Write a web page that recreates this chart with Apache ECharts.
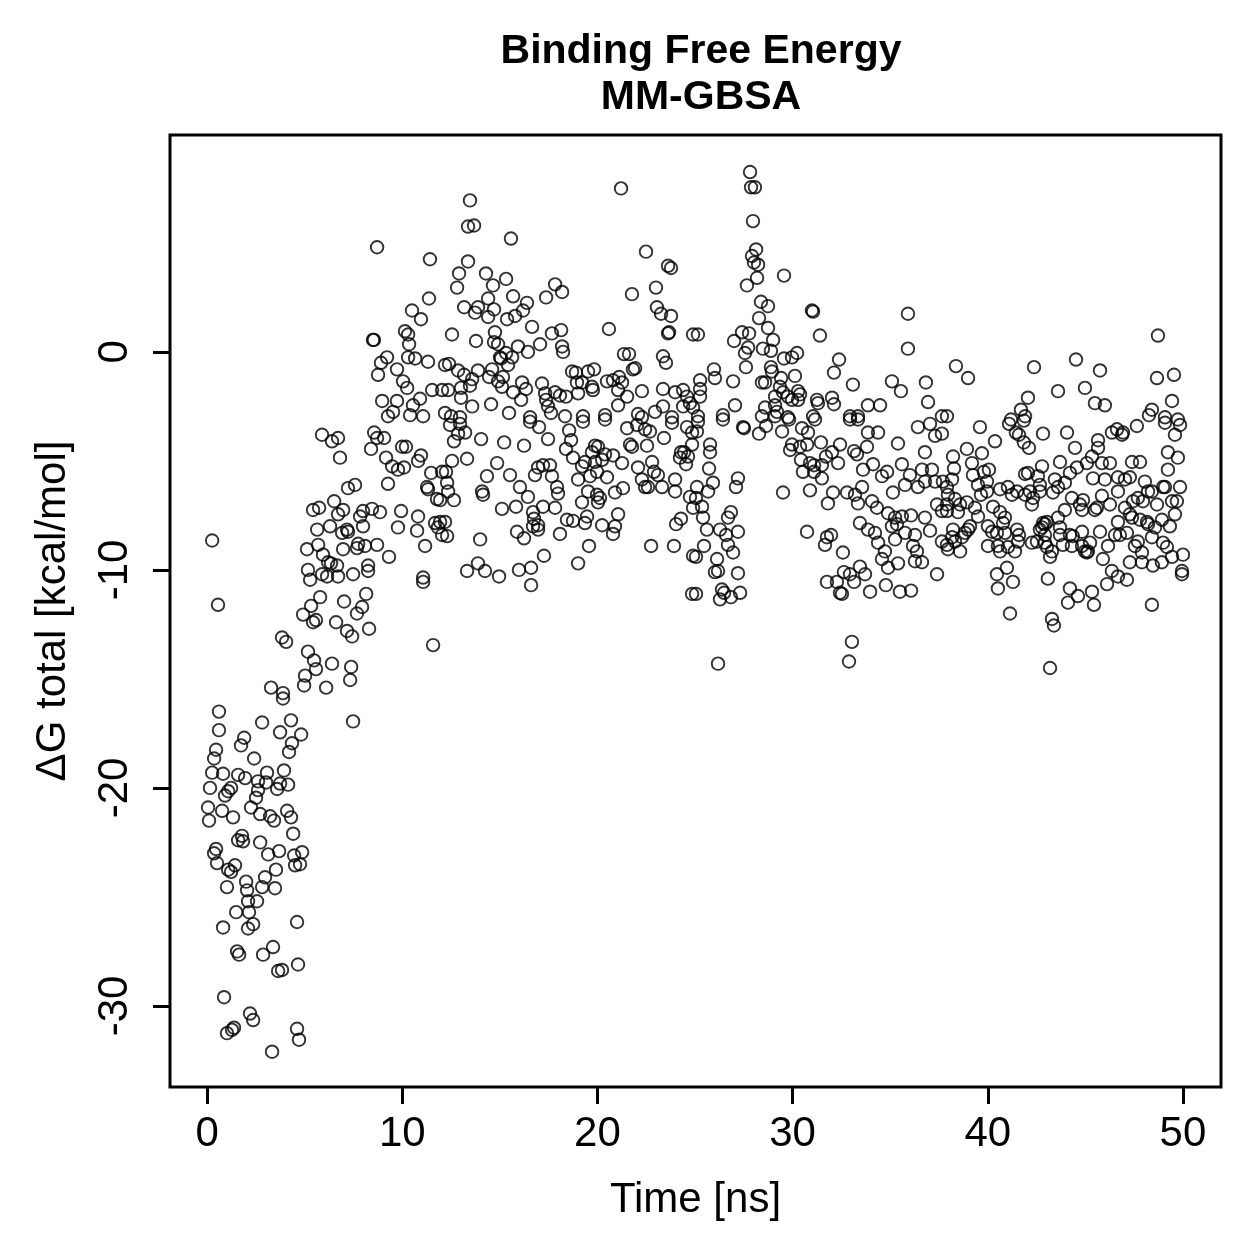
<!DOCTYPE html>
<html>
<head>
<meta charset="utf-8">
<script src="https://cdn.jsdelivr.net/npm/echarts@6/dist/echarts.min.js"></script>
<style>
  html, body { margin: 0; padding: 0; background: #fff; }
  #chart { width: 1259px; height: 1259px; }
</style>
</head>
<body>
<div id="chart"></div>
<script>
  // ΔG total vs time, [time ns, kcal/mol]
  var warmup = [[0.26,-8.65],[0.56,-11.6],
    [0.61,-16.5],[0.61,-17.35],[2.82,-17.0],[4.3,-16.9],[3.74,-17.45],[4.82,-17.55],[1.9,-17.7],[1.74,-18.05],[4.35,-17.95],[0.46,-18.25],[0.36,-18.65],[2.41,-18.65],[4.2,-18.35],[3.94,-19.2],[0.26,-19.3],[0.82,-19.35],[1.59,-19.4],[1.95,-19.55],[3.07,-19.3],[2.61,-19.7],[3.02,-19.75],[3.74,-19.8],[4.15,-19.85],[0.15,-20.0],[1.23,-20.0],[1.08,-20.15],[2.61,-20.1],[3.59,-20.05],[0.92,-20.35],[2.51,-20.45],[0.05,-20.9],[0.77,-21.05],[2.25,-20.9],[2.72,-21.2],[3.23,-21.3],[3.43,-21.5],[4.1,-21.05],[4.3,-21.35],[0.1,-21.5],[1.33,-21.35],[4.41,-22.1],[1.79,-22.2],[1.59,-22.4],[1.84,-22.45],[2.72,-22.5],[3.13,-23.05],[3.69,-22.9],[0.46,-22.8],[0.36,-23.0],[0.51,-23.45],[4.87,-22.95],[4.46,-23.1],[4.51,-23.55],[4.76,-23.5],[1.43,-23.55],[1.08,-23.75],[1.23,-23.85],[3.53,-23.75],[2.97,-24.1],[2.0,-24.3],[2.82,-24.55],[3.48,-24.6],[1.02,-24.55],[2.05,-24.7],[2.1,-25.2],[2.56,-25.2],[1.49,-25.7],[2.15,-25.7],[0.82,-26.4],[2.1,-26.45],[2.36,-26.25],[4.61,-26.15],[1.54,-27.5],[1.64,-27.65],[2.87,-27.65],[3.38,-27.3],[4.66,-28.1],[3.64,-28.4],[3.84,-28.35],[0.87,-29.6],[2.2,-30.35],[2.36,-30.65],[1.02,-31.25],[1.28,-31.1],[1.38,-31.0],[4.61,-31.05],[4.71,-31.55],[3.33,-32.1],[3.89,-15.9]];

  var rampLow = [[5.89,-3.8],[6.4,-4.1],[6.71,-3.95],[6.81,-4.85],[8.56,-3.7],[8.71,-3.95],[9.07,-3.95],[8.4,-4.45],[9.17,-4.85],[9.48,-5.25],[9.78,-5.4],[10.09,-5.3],[9.99,-4.35],[10.19,-4.35],[10.81,-5.0],[10.96,-4.75],[11.48,-5.55],[12.04,-5.5],[11.32,-6.3],[11.27,-6.2],[11.78,-6.75],[11.94,-6.8],[9.27,-6.05],[7.22,-6.25],[7.58,-6.1],[6.51,-6.85],[5.43,-7.25],[5.74,-7.15],[6.71,-7.45],[6.97,-7.25],[7.99,-7.3],[8.45,-7.2],[8.86,-7.35],[7.84,-7.55],[9.94,-7.3],[10.81,-7.55],[11.68,-7.85],[11.94,-7.8],[11.83,-8.05],[12.04,-8.4],[5.64,-8.15],[6.3,-8.0],[6.92,-8.3],[7.17,-8.15],[7.22,-8.25],[7.99,-8.0],[9.78,-8.05],[10.76,-8.2],[5.12,-9.05],[5.69,-8.85],[5.94,-9.3],[6.97,-9.05],[7.74,-8.8],[7.68,-9.0],[8.09,-8.9],[8.71,-8.85],[9.32,-9.4],[11.17,-8.9],[6.2,-9.65],[6.35,-9.7],[6.66,-9.8],[5.17,-10.0],[5.28,-10.45],[5.89,-10.2],[6.15,-10.3],[6.71,-10.3],[7.48,-10.2],[8.25,-9.8],[8.25,-10.05],[11.07,-10.35],[11.07,-10.55],[5.79,-11.25],[5.33,-11.65],[4.92,-12.05],[5.43,-12.4],[5.58,-12.3],[7.02,-11.45],[8.15,-11.1],[7.94,-11.7],[7.68,-12.0],[6.61,-12.4],[7.17,-12.8],[7.43,-13.05],[8.3,-12.7],[11.58,-13.45],[3.84,-13.1],[4.05,-13.3],[5.17,-13.75],[5.48,-14.15],[6.4,-14.3],[5.58,-14.55],[7.38,-14.45],[5.02,-14.85],[4.97,-15.3],[7.33,-15.05],[6.1,-15.4],[3.28,-15.4],[3.89,-15.65],[7.48,-16.95]];

  var rampHigh = [[8.71,4.8],[11.42,4.25],[11.37,2.45],[10.5,1.9],[10.96,1.5],[8.5,0.55],[8.55,0.55],[10.14,0.95],[10.3,0.8],[10.35,0.35],[9.22,-0.25],[8.91,-0.5],[10.3,-0.25],[10.66,-0.3],[11.32,-0.45],[9.73,-0.8],[8.76,-1.05],[10.04,-1.35],[10.25,-1.65],[11.53,-1.75],[12.04,-1.75],[12.19,-0.6],[8.97,-2.25],[9.73,-2.25],[10.91,-2.15],[10.55,-2.45],[9.53,-2.75],[9.27,-2.95],[11.07,-2.95],[12.19,-2.8],[10.4,-2.9]];

  var plateauUpper = [[13.47,6.95],[13.37,5.75],[13.68,5.8],[15.57,5.2],[21.21,7.5],[22.49,4.6],[23.62,3.95],[23.77,3.85],[13.37,4.15],[12.91,3.6],[12.81,2.95],[14.29,3.6],[14.65,3.05],[15.32,3.35],[14.4,2.45],[15.68,2.55],[17.83,3.1],[18.19,2.75],[17.37,2.5],[16.39,2.25],[16.19,1.9],[15.78,1.65],[15.37,1.5],[21.77,2.65],[23.0,2.95],[23.05,2.05],[23.26,1.75],[23.77,1.65],[13.17,2.05],[13.73,1.8],[13.88,2.05],[14.4,1.6],[14.7,1.95],[12.55,0.8],[13.78,0.5],[14.75,0.9],[14.7,0.45],[14.91,0.35],[16.65,1.15],[17.67,0.85],[18.14,1.0],[17.06,0.35],[18.19,0.25],[18.24,0.0],[20.59,1.05],[23.62,0.85],[23.67,0.9],[24.9,0.8],[15.93,0.25],[16.44,0.0],[15.01,-0.25],[15.32,-0.05],[15.63,-0.25],[15.42,-0.6],[15.06,-0.3],[21.36,-0.1],[21.62,-0.1],[23.36,-0.2],[23.51,-0.5],[21.82,-0.8],[21.93,-0.75],[12.4,-0.55],[12.86,-0.85],[13.17,-1.05],[13.88,-0.85],[14.6,-0.8],[14.45,-1.15],[15.16,-1.15],[14.91,-1.35],[15.11,-1.6],[13.58,-1.25],[13.47,-1.55],[13.01,-1.65],[16.14,-1.4],[16.34,-1.7],[15.68,-1.85],[16.09,-2.2],[17.16,-1.45],[17.32,-1.9],[17.83,-1.85],[18.08,-2.0],[18.39,-2.05],[17.37,-2.2],[18.7,-0.9],[18.9,-0.95],[19.52,-0.9],[19.83,-0.8],[18.95,-1.4],[19.21,-1.4],[19.72,-1.6],[19.77,-1.75],[19.01,-1.9],[20.49,-1.35],[20.8,-1.3],[21.11,-1.15],[21.26,-1.4],[21.06,-1.75],[21.52,-2.05],[22.28,-1.8],[23.36,-1.7],[23.98,-1.85],[24.39,-1.75],[24.59,-2.05],[24.74,-2.35],[24.39,-2.5],[12.35,-1.75],[13.01,-2.1],[13.58,-2.5],[14.55,-2.4],[15.47,-2.8],[16.55,-3.0],[17.47,-2.5],[17.62,-2.8],[20.39,-2.9],[21.06,-2.45],[22.08,-2.85],[22.95,-2.75],[23.36,-2.5],[12.5,-2.95],[12.96,-3.0],[18.34,-2.95],[19.26,-2.95],[22.28,-3.0],[23.82,-3.0],[24.9,-2.55]];

  var plateauLower = [[12.45,-3.35],[12.96,-3.3],[13.22,-3.7],[12.86,-3.75],[12.65,-4.1],[14.04,-4.0],[15.22,-4.15],[16.24,-4.3],[16.55,-3.2],[17.01,-3.45],[17.47,-4.0],[18.55,-3.6],[18.65,-4.05],[18.39,-4.45],[18.75,-4.85],[19.26,-3.2],[20.39,-3.1],[21.52,-3.5],[22.03,-3.35],[22.44,-3.55],[22.69,-3.65],[23.41,-3.95],[23.82,-3.25],[24.59,-3.45],[24.85,-3.7],[22.54,-4.3],[21.77,-4.35],[21.67,-4.25],[19.88,-4.3],[20.03,-4.35],[19.72,-4.6],[20.39,-4.7],[20.8,-4.75],[21.26,-5.1],[24.28,-4.6],[24.44,-4.6],[24.23,-4.85],[24.64,-4.8],[24.54,-5.15],[24.85,-4.25],[12.55,-5.0],[13.32,-4.9],[14.86,-5.1],[12.24,-5.5],[12.3,-6.0],[12.35,-6.4],[12.65,-6.8],[14.34,-5.7],[15.52,-5.65],[16.03,-6.2],[16.44,-6.65],[14.09,-6.4],[14.14,-6.55],[16.96,-5.3],[17.21,-5.2],[17.57,-5.2],[16.8,-5.65],[17.67,-5.7],[17.93,-6.2],[17.98,-6.5],[19.01,-5.85],[19.21,-5.25],[19.36,-5.05],[19.88,-5.05],[20.24,-4.95],[19.98,-5.5],[20.49,-5.75],[19.62,-5.7],[19.52,-6.4],[19.98,-6.55],[20.13,-6.7],[20.03,-6.9],[19.21,-6.9],[20.9,-6.45],[21.31,-6.25],[22.08,-5.3],[22.28,-5.85],[22.8,-5.05],[22.9,-5.5],[23.1,-5.65],[22.44,-6.2],[22.59,-6.2],[23.31,-6.2],[23.98,-5.85],[23.98,-6.4],[24.74,-6.65],[24.9,-7.15],[15.11,-7.2],[15.83,-7.1],[16.7,-7.35],[17.21,-7.1],[17.83,-7.15],[16.75,-7.65],[16.96,-7.95],[16.96,-8.15],[16.7,-8.0],[15.88,-8.25],[16.24,-8.55],[18.08,-8.35],[18.44,-7.7],[18.75,-7.75],[19.47,-7.55],[19.36,-7.85],[20.24,-7.95],[21.06,-7.45],[20.9,-8.0],[20.8,-8.35],[24.03,-7.9],[24.28,-7.65],[12.19,-7.8],[12.3,-8.45],[13.99,-8.6],[17.26,-9.35],[19.01,-9.7],[19.57,-8.9],[22.75,-8.9],[23.92,-8.9],[24.9,-9.35],[13.88,-9.7],[13.32,-10.05],[14.24,-10.05],[14.96,-10.3],[15.98,-10.0],[16.6,-9.9],[16.6,-10.7],[24.85,-11.1]];

  var peakUpper = [[27.82,8.25],[27.87,7.55],[28.07,7.55],[27.97,6.0],[28.13,4.7],[27.92,4.4],[28.02,4.1],[28.23,4.0],[28.18,3.4],[27.66,3.05],[29.56,3.5],[28.38,2.3],[28.74,2.1],[30.99,1.9],[31.05,1.85],[28.28,1.55],[35.91,1.75],[28.74,1.1],[31.4,0.75],[27.41,0.9],[27.77,0.85],[27.0,0.5],[25.15,0.8],[29.0,0.55],[27.72,0.2],[27.56,-0.05],[28.48,0.15],[28.89,0.05],[29.56,-0.3],[29.97,-0.25],[30.23,-0.05],[32.38,-0.35],[35.91,0.15],[27.61,-0.7],[28.89,-0.7],[28.94,-0.9],[29.41,-1.2],[30.12,-1.1],[32.12,-0.95],[25.97,-0.8],[26.02,-1.2],[26.95,-1.35],[28.43,-1.4],[28.59,-1.4],[29.35,-1.6],[25.26,-1.3],[25.26,-1.7],[25.26,-2.05],[35.09,-1.35],[35.55,-1.8],[36.83,-1.4],[33.09,-1.5],[30.28,-1.8],[30.38,-1.95],[29.1,-2.05],[29.51,-1.85],[29.76,-2.05],[31.25,-2.2],[31.3,-2.35],[32.02,-2.1],[32.12,-2.4],[29.97,-2.2],[30.28,-2.2],[27.05,-2.45],[28.59,-2.55],[29.1,-2.45],[29.2,-2.75],[33.86,-2.45],[34.48,-2.45],[36.94,-2.3],[26.43,-2.9],[28.43,-2.95],[29.1,-2.95],[29.76,-3.0],[31.05,-2.95],[32.94,-2.95],[33.35,-2.95],[37.65,-2.95],[25.15,-2.95]];

  var peakLower = [[25.1,-3.65],[25.15,-3.2],[26.43,-3.1],[27.46,-3.45],[27.51,-3.5],[28.28,-3.75],[28.64,-3.4],[29.46,-3.65],[29.82,-3.1],[30.48,-3.5],[30.79,-3.7],[31.15,-3.1],[29.97,-4.25],[29.87,-4.5],[30.38,-4.35],[30.74,-4.25],[31.45,-4.15],[32.43,-4.25],[30.43,-4.95],[30.89,-5.1],[30.53,-5.5],[31.1,-5.2],[31.5,-5.2],[31.71,-4.8],[32.02,-4.6],[32.33,-5.1],[31.5,-5.8],[31.1,-5.5],[33.15,-4.55],[33.3,-4.7],[33.81,-4.35],[33.86,-3.7],[34.38,-3.7],[33.35,-3.1],[32.94,-3.1],[35.4,-4.2],[36.42,-3.45],[37.04,-3.3],[37.3,-3.85],[37.65,-3.75],[36.78,-4.6],[33.61,-5.4],[34.12,-5.15],[34.58,-5.7],[34.84,-5.5],[35.6,-5.15],[36.01,-5.65],[35.76,-6.1],[36.63,-5.4],[37.14,-5.4],[36.42,-6.2],[36.78,-5.95],[37.3,-5.95],[37.7,-5.95],[35.14,-6.45],[33.56,-6.2],[33.2,-6.55],[33.35,-6.95],[32.79,-6.45],[32.07,-6.45],[31.81,-6.95],[29.51,-6.45],[30.89,-6.35],[34.07,-6.85],[34.32,-7.15],[34.89,-7.4],[35.25,-7.6],[35.6,-7.55],[36.07,-7.5],[36.78,-7.6],[37.4,-7.0],[37.65,-7.3],[33.45,-7.85],[33.86,-8.15],[34.22,-8.3],[34.38,-8.75],[35.09,-8.0],[35.35,-7.9],[35.76,-8.3],[36.27,-8.4],[36.17,-8.9],[36.37,-9.15],[35.25,-8.6],[34.73,-9.15],[34.58,-9.5],[34.89,-9.9],[35.4,-9.7],[36.27,-9.6],[36.63,-9.65],[37.4,-10.2],[37.65,-8.7],[37.04,-8.2],[30.74,-8.25],[31.66,-8.85],[31.76,-8.5],[31.97,-8.4],[32.58,-9.2],[32.63,-10.1],[32.94,-10.2],[33.15,-10.55],[33.45,-9.85],[33.71,-10.2],[31.76,-10.55],[32.27,-10.55],[32.53,-11.1],[32.43,-11.05],[33.97,-11.0],[34.78,-10.7],[35.5,-11.0],[36.07,-10.95],[33.04,-13.3],[32.89,-14.2],[26.18,-14.3],[25.77,-4.25],[25.77,-4.6],[25.72,-5.35],[25.92,-6.0],[25.67,-6.4],[25.1,-6.2],[25.05,-6.7],[25.36,-7.1],[25.41,-7.6],[25.61,-8.15],[25.05,-9.4],[25.46,-8.9],[27.2,-5.8],[27.1,-6.2],[26.84,-7.35],[26.69,-7.6],[26.28,-8.15],[27.2,-8.25],[26.59,-8.4],[26.69,-8.85],[26.95,-9.2],[26.13,-9.5],[26.18,-10.05],[26.02,-10.1],[27.2,-10.15],[26.38,-10.9],[26.49,-11.05],[26.28,-11.35],[26.84,-11.25],[27.31,-11.05],[25.05,-11.1]];

  var lateUpper = [[48.72,0.75],[38.37,-0.65],[38.99,-1.2],[42.37,-0.7],[44.52,-0.35],[45.75,-0.85],[43.6,-1.8],[44.98,-1.65],[42.06,-2.1],[41.7,-2.65],[41.91,-2.95],[41.19,-3.1],[45.49,-2.35],[46.0,-2.45],[48.67,-1.2],[49.54,-1.05],[49.44,-2.25],[48.41,-2.65],[48.26,-2.9],[49.08,-3.0],[49.74,-3.1],[37.91,-2.95]];

  var lateLower = [[39.6,-3.45],[41.09,-3.3],[41.85,-3.15],[41.44,-3.7],[41.6,-3.8],[41.85,-4.15],[42.11,-4.4],[42.83,-3.75],[44.06,-3.7],[44.47,-4.4],[40.37,-4.1],[38.93,-4.45],[39.7,-4.65],[38.22,-4.8],[38.27,-5.35],[39.19,-5.1],[39.24,-5.65],[39.8,-5.5],[40.06,-5.4],[38.17,-5.85],[37.91,-6.2],[39.5,-6.1],[39.96,-5.95],[39.96,-6.4],[39.65,-6.55],[40.63,-6.3],[41.03,-6.2],[41.24,-6.55],[41.5,-6.4],[41.91,-6.55],[42.16,-6.4],[42.32,-6.7],[42.26,-7.0],[42.06,-5.55],[41.91,-5.6],[42.78,-5.25],[42.57,-5.7],[42.67,-6.1],[42.67,-6.4],[43.7,-5.05],[43.44,-5.85],[43.6,-6.2],[43.34,-6.45],[43.95,-6.0],[44.21,-5.55],[44.57,-5.3],[45.08,-5.1],[45.34,-4.8],[45.65,-4.4],[45.65,-4.05],[45.39,-5.8],[45.85,-5.1],[46.26,-5.1],[46.0,-5.85],[46.67,-5.75],[47.03,-5.85],[47.28,-5.75],[47.39,-5.05],[47.8,-5.05],[46.36,-3.7],[46.62,-3.55],[46.93,-3.7],[46.88,-3.8],[47.64,-3.4],[49.08,-3.25],[49.85,-3.35],[49.59,-3.8],[49.23,-4.6],[49.74,-4.85],[49.23,-5.4],[48.05,-5.95],[48.41,-6.4],[49.08,-6.2],[49.85,-6.2],[37.96,-6.55],[38.32,-6.75],[37.91,-7.0],[38.58,-7.0],[38.93,-6.9],[38.47,-7.35],[37.91,-7.3],[39.34,-7.15],[39.5,-7.55],[40.27,-7.1],[40.63,-7.35],[40.88,-7.6],[40.78,-7.85],[40.01,-8.0],[40.22,-8.25],[40.47,-8.3],[40.88,-8.3],[41.5,-8.15],[41.6,-8.4],[39.09,-8.0],[38.83,-8.3],[38.22,-8.15],[38.17,-8.5],[38.68,-8.5],[38.99,-8.15],[38.32,-8.7],[37.91,-8.85],[37.96,-9.05],[38.58,-9.15],[40.01,-8.9],[40.52,-8.9],[40.63,-9.15],[41.03,-8.95],[41.39,-9.15],[41.55,-8.7],[42.26,-8.75],[42.52,-8.7],[42.78,-8.05],[42.93,-7.9],[42.83,-7.85],[43.03,-7.8],[42.67,-8.15],[42.93,-8.4],[42.93,-8.75],[43.03,-8.95],[43.29,-9.15],[43.19,-9.4],[43.6,-7.6],[43.7,-8.05],[43.95,-7.25],[44.31,-6.7],[44.72,-7.0],[44.83,-7.25],[44.88,-6.8],[45.49,-7.25],[45.59,-7.15],[45.85,-6.6],[46.26,-7.0],[46.67,-6.4],[47.03,-7.15],[47.44,-6.85],[47.69,-6.7],[47.95,-6.85],[48.21,-6.4],[48.67,-7.0],[48.98,-6.2],[49.44,-6.85],[49.69,-6.85],[49.59,-7.45],[47.28,-7.45],[47.39,-7.6],[46.67,-7.8],[47.8,-7.7],[48.16,-7.8],[48.21,-7.9],[48.57,-8.05],[48.92,-7.7],[49.33,-8.0],[43.7,-8.4],[44.21,-8.4],[44.36,-8.45],[44.83,-8.25],[43.85,-8.85],[44.31,-8.9],[44.83,-8.9],[44.98,-9.15],[45.08,-9.2],[45.24,-8.75],[45.13,-9.15],[45.75,-8.25],[46.16,-8.9],[46.52,-8.4],[46.77,-8.4],[47.13,-8.3],[47.54,-8.9],[47.9,-9.2],[47.69,-8.7],[48.41,-8.5],[48.98,-8.75],[49.18,-8.95],[49.44,-9.4],[50.0,-9.3],[49.95,-10.05],[49.95,-10.2],[47.28,-9.65],[47.9,-9.65],[48.46,-9.8],[48.92,-9.65],[45.9,-9.5],[46.36,-10.05],[46.67,-10.3],[47.13,-10.45],[46.11,-10.65],[40.98,-9.9],[40.47,-10.2],[41.29,-10.55],[40.52,-10.85],[43.08,-10.4],[44.21,-10.85],[44.62,-11.2],[44.11,-11.5],[45.34,-11.0],[45.44,-11.6],[48.41,-11.6],[41.14,-12.0],[43.29,-12.25],[43.39,-12.55],[43.19,-14.5]];

  var xTicks = [0, 10, 20, 30, 40, 50];
  var yTicks = [-30, -20, -10, 0];

  var allPoints = [].concat(warmup, rampLow, rampHigh, plateauUpper, plateauLower,
    peakUpper, peakLower, lateUpper, lateLower);

  var font = '"Liberation Sans", Arial, Helvetica, sans-serif';
  var chart = echarts.init(document.getElementById('chart'), null, { renderer: 'canvas' });

  chart.setOption({
    animation: false,
    backgroundColor: '#fff',
    title: {
      text: 'Binding Free Energy\nMM-GBSA',
      left: 696,
      top: 24,
      textAlign: 'center',
      textStyle: {
        fontFamily: font,
        fontWeight: 'bold',
        fontSize: 41,
        lineHeight: 46,
        color: '#000'
      }
    },
    grid: {
      left: 170,
      top: 135,
      width: 1051,
      height: 952,
      show: true,
      borderColor: '#000',
      borderWidth: 3,
      backgroundColor: 'transparent'
    },
    xAxis: {
      type: 'value',
      min: -1.9,
      max: 51.95,
      name: 'Time [ns]',
      nameLocation: 'middle',
      nameGap: 92,
      nameTextStyle: { fontFamily: font, fontSize: 42, color: '#000' },
      axisLine: { show: false, onZero: false },
      splitLine: { show: false },
      axisTick: {
        show: true,
        inside: false,
        length: 17,
        customValues: xTicks,
        lineStyle: { color: '#000', width: 3 }
      },
      axisLabel: {
        customValues: xTicks,
        margin: 26,
        fontFamily: font,
        fontSize: 42,
        color: '#000'
      }
    },
    yAxis: {
      type: 'value',
      min: -33.72,
      max: 9.95,
      name: 'ΔG total [kcal/mol]',
      nameLocation: 'middle',
      nameGap: 96,
      nameRotate: 90,
      nameTextStyle: { fontFamily: font, fontSize: 42, color: '#000' },
      axisLine: { show: false, onZero: false },
      splitLine: { show: false },
      axisTick: {
        show: true,
        inside: false,
        length: 17,
        customValues: yTicks,
        lineStyle: { color: '#000', width: 3 }
      },
      axisLabel: {
        customValues: yTicks,
        rotate: 90,
        margin: 34,
        fontFamily: font,
        fontSize: 42,
        color: '#000'
      }
    },
    series: [{
      type: 'scatter',
      data: allPoints,
      symbol: 'circle',
      symbolSize: 12.5,
      silent: true,
      itemStyle: {
        color: 'rgba(0,0,0,0)',
        borderColor: '#000',
        borderWidth: 1.9
      }
    }]
  });
</script>
</body>
</html>
